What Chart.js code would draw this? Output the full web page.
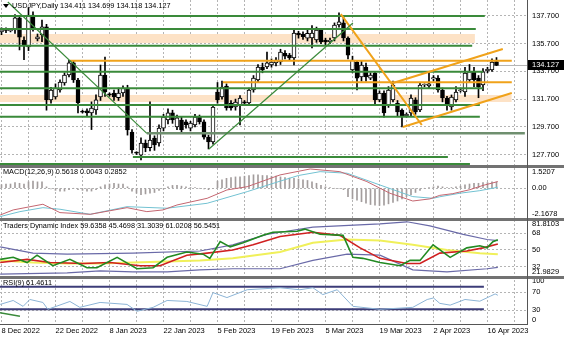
<!DOCTYPE html>
<html>
<head>
<meta charset="utf-8">
<script src="https://cdn.jsdelivr.net/npm/chart.js@4.4.1/dist/chart.umd.min.js"></script>
<style>
  html, body { margin: 0; padding: 0; background: #fff; }
  #wrap { width: 564px; height: 338px; }
</style>
</head>
<body>
<div id="wrap"><canvas id="chart" width="564" height="338"></canvas></div>
<script>
// ---- data ----
const headerText = 'USDJPY,Daily 134.411 134.699 134.118 134.127';
const macdTitle = 'MACD(12,26,9) 0.5618 0.0043 0.2852';
const tdiTitle = 'Traders Dynamic Index 59.6358 45.4698 31.3039 61.0208 56.5451';
const rsiTitle = 'RSI(9) 61.4611';
const lastPrice = 134.127;

const dateLabels = ['8 Dec 2022', '22 Dec 2022', '8 Jan 2023', '22 Jan 2023', '5 Feb 2023',
  '19 Feb 2023', '5 Mar 2023', '19 Mar 2023', '2 Apr 2023', '16 Apr 2023'];

const priceTicks = [137.7, 135.7, 133.7, 131.7, 129.7, 127.7];
const macdTicks = [1.5207, 0, -2.1678];
const macdTickLabels = ['1.5207', '0.00', '-2.1678'];
const tdiTicks = [81.8103, 68, 50, 32, 21.9829];
const tdiTickLabels = ['81.8103', '68', '50', '32', '21.9829'];
const rsiTicks = [100, 70, 30, 0];
const rsiTickLabels = ['100', '70', '30', '0'];

const barOpen = [136.55,136.72,136.62,136.69,137.56,135.95,135.46,137.77,136.05,136.33,
  136.91,131.64,131.85,132.36,132.86,133.44,134.31,133.08,130.80,130.85,
  130.70,130.91,131.85,133.44,132.05,132.14,131.80,132.14,132.50,129.32,
  127.82,127.66,128.53,128.20,128.89,128.53,129.61,130.20,130.70,129.69,
  130.19,130.05,129.61,129.83,130.41,130.05,128.96,128.60,132.21,131.85,
  132.64,131.42,131.13,131.27,131.50,131.42,132.36,133.08,134.02,134.02,
  134.16,134.31,134.38,135.00,134.88,134.67,136.47,136.40,136.10,136.11,
  135.97,136.69,135.97,135.85,136.11,137.05,137.20,136.11,133.80,134.38,
  133.30,134.02,133.22,133.58,131.64,132.14,131.27,131.64,131.42,130.91,
  130.50,130.70,131.64,130.91,132.72,132.65,133.15,133.22,132.36,131.78,
  131.13,131.64,132.30,132.21,133.08,133.66,133.22,132.72,133.75,133.80,134.411];
const barHigh = [136.85,136.85,136.70,137.80,137.75,136.20,138.30,138.00,136.40,137.40,
  137.10,132.55,132.80,133.10,133.60,134.50,134.45,133.20,130.90,131.00,
  131.50,132.00,134.16,134.74,132.15,132.35,132.50,132.65,132.70,129.50,
  127.90,128.90,128.75,131.50,129.05,129.85,130.60,131.00,130.90,130.55,
  130.40,130.20,130.10,130.60,130.55,130.20,129.10,131.30,132.90,133.00,
  132.80,131.60,131.70,131.95,131.60,132.50,133.40,134.20,134.30,135.10,
  134.60,134.70,135.30,135.20,135.00,136.70,136.60,136.55,136.70,137.00,
  136.90,136.80,136.10,136.10,137.20,137.92,137.60,136.20,134.80,134.50,
  134.50,134.30,133.60,133.70,132.30,132.30,132.60,133.00,131.60,131.00,
  130.70,132.00,131.80,132.90,132.80,133.66,133.40,133.40,132.50,131.90,
  132.00,132.60,132.50,134.00,134.20,134.00,133.40,133.90,134.00,134.60,134.699];
const barLow = [136.35,136.50,136.55,136.45,135.25,134.55,135.20,136.60,135.90,135.85,
  130.90,131.40,131.70,132.20,132.70,133.30,132.90,130.70,130.70,130.50,
  129.50,130.60,131.60,131.90,131.90,131.60,131.60,131.90,129.10,127.80,
  127.70,127.30,127.90,127.95,128.00,128.30,129.40,129.90,129.95,129.50,
  129.30,129.60,129.40,129.70,129.90,128.80,128.10,128.45,131.40,131.70,
  130.90,130.90,130.90,129.83,131.30,131.30,132.20,132.90,133.60,133.90,
  134.00,134.10,134.20,134.60,134.50,134.16,136.10,136.00,135.90,135.40,
  135.80,135.70,135.60,135.70,135.90,136.90,135.90,134.60,133.60,132.36,
  133.00,133.00,133.10,131.30,131.50,130.40,131.10,131.50,130.50,129.69,
  130.40,130.50,130.60,130.80,132.60,132.50,133.00,132.20,131.50,130.90,
  130.90,131.50,132.20,131.90,132.90,132.60,131.80,132.30,133.60,133.70,134.118];
const barClose = [136.70,136.66,136.62,137.56,136.18,135.55,137.77,136.84,136.20,136.91,
  131.64,132.36,132.50,132.93,133.44,134.31,133.08,131.42,130.75,130.70,
  131.06,131.64,133.44,132.21,132.00,131.85,132.14,132.50,129.47,128.03,
  127.80,128.53,128.17,128.75,128.39,129.61,130.41,130.70,130.19,130.34,
  129.47,129.83,129.97,130.41,130.05,128.96,128.60,131.13,131.64,132.57,
  131.06,131.06,131.49,131.78,131.40,132.36,133.22,134.02,133.80,134.31,
  134.38,134.52,135.10,134.80,134.67,136.47,136.33,136.20,136.45,136.47,
  136.69,135.82,135.82,135.95,137.05,137.27,136.11,134.88,134.52,133.22,
  134.16,133.30,133.44,131.64,132.14,130.70,132.36,132.72,130.77,130.41,
  130.60,131.78,130.77,132.72,132.72,132.80,133.25,132.36,131.78,131.27,
  131.85,132.21,132.35,133.58,133.66,133.08,132.57,133.66,133.85,134.38,134.127];

// drawn objects on the price window: [price, fromBar, toBar]
const greenLevels = [[137.70,-1,107.4],[136.76,-1,105.4],[135.56,-1,104.6],[133.68,-1,107.0],
  [132.48,-1,107.0],[131.27,-1,106.3],[130.43,-1,106.3],[127.52,29.2,99.2],[127.01,-1,104.1]];
const greyGreenLevels = [[129.23,32.3,116.3]];
const orangeLevels = [[134.47,15.2,113.4],[132.91,49.2,113.4]];
// zones: [top, bottom, fromBar, toBar]
const zones = [[136.40,135.75,-1,105.2],[132.00,131.49,-1,113.4]];
const greenTrends = [[[1.4,138.71],[32.3,129.23]], [[46.1,128.10],[78.1,137.19]]];
const orangeTrends = [[[75.4,137.84],[93.4,129.83]], [[87,132.86],[111.4,135.32]], [[89.2,129.69],[113.4,132.14]]];

// MACD window
const macdHist = [0.25,0.3,0.3,0.4,0.35,0.3,0.45,0.5,0.45,0.45,
  0.1,-0.05,-0.15,-0.2,-0.2,-0.1,0.0,
  -0.1,-0.15,-0.2,-0.2,-0.1,
  0.1,0.25,0.3,0.35,0.3,0.3,0.1,
  -0.2,-0.35,-0.45,-0.4,-0.35,-0.3,
  -0.15,-0.05,0.1,0.2,0.2,0.15,0.1,
  0.05,0.05,0.0,-0.05,-0.1,0.0,
  0.5,0.6,0.7,0.75,0.8,0.8,0.85,0.9,0.95,0.95,0.9,0.9,0.85,0.85,0.8,
  0.75,0.72,0.7,0.65,0.6,0.55,0.45,0.35,0.2,
  0.1,0.05,0.0,0.0,-0.1,
  -0.6,-0.75,-0.85,-0.95,-1.05,-1.15,-1.2,-1.22,-1.2,-1.1,-1.0,-0.9,-0.75,-0.6,-0.45,-0.3,-0.15,
  0.0,0.05,0.1,0.15,0.1,0.05,0.05,
  0.1,0.15,0.25,0.3,0.35,0.35,0.4,0.4,0.45,0.45];
const macdLine = [[-0.3,-1.89],[2.6,-1.53],[9.2,-1.13],[13,-1.72],[19.7,-1.84],[27.9,-1.37],[32.3,-1.65],
  [35.9,-1.53],[39,-1.18],[45.7,-0.71],[50.1,-0.12],[54.6,0.11],[61.9,0.94],[68.6,1.36],[75.2,1.17],
  [81.2,0.47],[86.3,-0.35],[91.4,-0.9],[95.2,-0.75],[97.4,-0.5],[100.3,-0.38],[104.1,-0.1],[107,0.2],[110.3,0.47]];
const macdSignal = [[-0.3,-2.0],[4.1,-1.65],[9.2,-1.37],[13,-1.48],[19.7,-1.84],[27.9,-1.30],[36.8,-1.41],
  [45.7,-1.06],[54.6,-0.24],[61.9,0.5],[66,0.9],[70.8,1.17],[76.8,1.06],[84.1,0.23],[91.4,-0.59],
  [95.9,-0.71],[97.4,-0.6],[101.9,-0.35],[106.3,-0.17],[110.3,0.07]];

// Traders Dynamic Index window
const tdiUpper = [[-0.3,53.4],[7,46.6],[14.6,45.5],[29.2,46.6],[44.1,48.9],[51.4,55.6],[59,66.9],[61.9,69.1],
  [69.2,74.7],[84.1,78.1],[90.1,80.4],[95.2,75.9],[102.6,66.9],[107.9,61.3],[110.3,60.1]];
const tdiLower = [[-0.3,24.1],[14.6,25.3],[21.9,27.5],[29.2,26.4],[36.8,26.4],[44.1,28.6],[51.4,29.8],
  [61.9,29.8],[69.2,38.8],[76.8,45.5],[84.1,44.4],[91.4,28.6],[99,26.4],[107.9,29.8],[110.3,31.3]];
const tdiMid = [[-0.3,38.8],[7,36.5],[14.6,35.4],[21.9,35.4],[29.2,36.5],[36.8,37.6],[44.1,38.8],[51.4,41.0],
  [61.9,47.8],[69.2,57.9],[76.8,61.3],[84.1,60.1],[91.4,55.6],[99,50.0],[106.3,46.6],[110.3,45.5]];
const tdiSignal = [[-0.3,36.5],[5.7,39.9],[10.8,36.5],[18.1,35.4],[24.1,36.5],[30.8,33.1],[35.2,33.1],
  [41.2,44.4],[45.7,46.6],[51.4,50.0],[55.9,55.6],[61.9,64.6],[69.2,69.1],[75.2,65.8],[79.7,52.3],
  [84.1,41.0],[90.1,35.4],[93,35.4],[97.4,46.6],[103.4,48.9],[107,52.3],[110.3,56.5]];
const tdiPrice = [[-0.3,39.9],[2.6,42.1],[5.7,36.5],[7.9,44.4],[11.4,33.1],[15.2,39.9],[19,30.9],[21.2,30.9],
  [25.7,42.1],[30.1,29.8],[33.7,30.9],[36.8,42.1],[41.2,47.8],[44.8,45.5],[46.3,41.0],[48.6,59.0],
  [50.8,53.4],[53.7,57.9],[58.1,65.8],[60.3,69.1],[65.7,70.2],[67.4,72.5],[70.8,66.9],[75.9,65.8],
  [78.1,42.1],[80.3,41.0],[84.1,36.5],[88.6,33.1],[90.8,38.8],[93,38.8],[95.9,55.6],[99.7,42.1],
  [103.4,52.3],[106.3,54.5],[107.9,52.3],[109.2,59.0],[110.3,61.0]];

// RSI window
const rsiLine = [[-0.3,42.6],[2.6,51.4],[4.8,38.3],[6.3,53.6],[9.2,47.0],[10.3,31.7],[15.2,49.2],[17.4,36.1],
  [21.9,47.0],[27.9,42.6],[30.1,27.3],[33.7,36.1],[36.8,51.4],[41.2,49.2],[45.7,38.3],[47,68.9],
  [50.1,57.9],[54.6,75.4],[61.9,79.8],[66.3,75.4],[69.2,79.8],[71.4,64.5],[74.6,75.4],[78.1,38.3],
  [84.1,31.7],[91.4,36.1],[94.6,53.6],[96,57],[97.4,45],[99.7,41],[103,53.6],[106.3,49.8],
  [108.6,60.8],[109.7,66],[110.3,63]];
const rsiLevels = [[82.0,-1,107.2],[31.7,-1,107.2]];
const rsiGreenSeg = [[-1,25.1],[4.1,16.4]];

// ---- build datasets ----
const idx = barOpen.map((_, i) => i);
const pts = arr => arr.map(p => ({x: p[0], y: p[1]}));

function line(data, axis, color, width, order) {
  return { type: 'line', yAxisID: axis, data: data, borderColor: color, borderWidth: width,
    pointRadius: 0, tension: 0, fill: false, order: order };
}

const datasets = [];
// price window
zones.forEach(z => {
  datasets.push(line([{x: z[2], y: z[0]}, {x: z[3], y: z[0]}], 'yMain', 'rgba(0,0,0,0)', 0, 20));
  datasets.push(Object.assign(line([{x: z[2], y: z[1]}, {x: z[3], y: z[1]}], 'yMain', 'rgba(0,0,0,0)', 0, 20),
    { fill: '-1', backgroundColor: '#fde2c6' }));
});
datasets.push(line([{x: -1, y: lastPrice}, {x: 130, y: lastPrice}], 'yMain', '#b4b4b4', 1, 15));
datasets.push({
  type: 'bar', yAxisID: 'yMain', grouped: false, order: 11,
  data: idx.map(i => ({x: i, y: [barLow[i], barHigh[i]]})),
  backgroundColor: '#000', barThickness: 1, minBarLength: 1
});
datasets.push({
  type: 'bar', yAxisID: 'yMain', grouped: false, order: 10,
  data: idx.map(i => ({x: i, y: [barOpen[i], barClose[i]]})),
  backgroundColor: idx.map(i => barClose[i] >= barOpen[i] ? '#fff' : '#000'),
  borderColor: '#000', borderWidth: 1, borderSkipped: false, barThickness: 4, minBarLength: 1
});
greyGreenLevels.forEach(l => datasets.push(line([{x: l[1], y: l[0]}, {x: l[2], y: l[0]}], 'yMain', '#6f8f6f', 2.5, 5)));
greenLevels.forEach(l => datasets.push(line([{x: l[1], y: l[0]}, {x: l[2], y: l[0]}], 'yMain', '#3a8a3a', 2, 5)));
orangeLevels.forEach(l => datasets.push(line([{x: l[1], y: l[0]}, {x: l[2], y: l[0]}], 'yMain', '#f0a21a', 2, 4)));
greenTrends.forEach(t => datasets.push(line(pts(t), 'yMain', '#3a8a3a', 1.2, 3)));
orangeTrends.forEach(t => datasets.push(line(pts(t), 'yMain', '#f0a21a', 2, 3)));

// MACD window
datasets.push({
  type: 'bar', yAxisID: 'yMacd', grouped: false, order: 10,
  data: idx.map(i => ({x: i, y: macdHist[i]})),
  backgroundColor: '#a39d9d', barThickness: 1
});
datasets.push(line(pts(macdSignal), 'yMacd', '#72c2d2', 1, 2));
datasets.push(line(pts(macdLine), 'yMacd', '#c46670', 1, 1));

// TDI window
datasets.push(line(pts(tdiUpper), 'yTdi', '#6a6aa8', 1.2, 3));
datasets.push(line(pts(tdiLower), 'yTdi', '#6a6aa8', 1.2, 3));
datasets.push(line(pts(tdiMid), 'yTdi', '#f0f05a', 2, 3));
datasets.push(line(pts(tdiSignal), 'yTdi', '#d02020', 1.6, 2));
datasets.push(line(pts(tdiPrice), 'yTdi', '#228a22', 1.6, 1));

// RSI window
rsiLevels.forEach(l => datasets.push(line([{x: l[1], y: l[0]}, {x: l[2], y: l[0]}], 'yRsi', '#3c3c78', 2, 3)));
datasets.push(line(pts(rsiGreenSeg), 'yRsi', '#3a8a3a', 1.5, 2));
datasets.push(line(pts(rsiLine), 'yRsi', '#8cb4d6', 1, 1));

// ---- axes ----
const gridGrey = '#b4b4b4';
const tickFont = { family: 'Liberation Sans', size: 7.5 };
const panes = { main: 166, macd: 53, tdi: 58, rsi: 47 };

// extreme labels sit a few pixels inside their window, as in the terminal
function insetTicks(values, min, max, heightPx, insetPx) {
  const d = (max - min) * insetPx / heightPx;
  return values.map((v, i) => {
    if (i === 0) return { value: max - d };
    if (i === values.length - 1) return { value: min + d };
    return { value: v };
  });
}

function yAxis(weight, min, max, ticksFn, labelFn, gridFn) {
  return {
    type: 'linear', position: 'right', stack: 'panes', stackWeight: weight,
    min: min, max: max, offset: false,
    afterFit: s => { s.width = 37; s.paddingTop = 0; s.paddingBottom = 0; },
    afterBuildTicks: s => { s.ticks = ticksFn(); },
    border: { display: false, dash: [2, 2] },
    grid: { color: gridFn, drawTicks: false, lineWidth: 1 },
    ticks: { callback: labelFn, font: tickFont, color: '#000', padding: 5, autoSkip: false }
  };
}

const macdMin = -2.17, macdMax = 1.57;
const tdiMin = 20.9, tdiMax = 83.4;
const rsiMin = -1.1, rsiMax = 103.8;
const innerOnly = n => ctx => (ctx.index === 0 || ctx.index === n - 1) ? 'rgba(0,0,0,0)' : gridGrey;

const chart = new Chart(document.getElementById('chart').getContext('2d'), {
  type: 'bar',
  data: { datasets: datasets },
  options: {
    responsive: false,
    devicePixelRatio: 1,
    animation: false,
    events: [],
    layout: { padding: 0 },
    plugins: { legend: { display: false }, tooltip: { enabled: false } },
    scales: {
      x: {
        type: 'linear', position: 'bottom', min: -0.333, max: 116.78, offset: false,
        afterFit: s => { s.height = 14; s.paddingLeft = 0; s.paddingRight = 0; },
        afterBuildTicks: s => {
          const t = [];
          for (let v = 0; v <= 114; v += 6) t.push({ value: v });
          s.ticks = t;
        },
        border: { display: false, dash: [2, 2] },
        grid: { color: gridGrey, drawTicks: false, offset: false },
        ticks: {
          font: tickFont, color: '#000', padding: 2, maxRotation: 0, autoSkip: false, align: 'start',
          callback: v => (v % 12 === 0 && dateLabels[v / 12]) ? dateLabels[v / 12] : ''
        }
      },
      yMain: yAxis(panes.main, 126.87, 138.855,
        () => priceTicks.map(v => ({ value: v })),
        v => v.toFixed(3),
        () => gridGrey),
      yMacd: yAxis(panes.macd, macdMin, macdMax,
        () => insetTicks(macdTicks, macdMin, macdMax, panes.macd, 5.5),
        (v, i) => macdTickLabels[i],
        innerOnly(macdTicks.length)),
      yTdi: yAxis(panes.tdi, tdiMin, tdiMax,
        () => insetTicks(tdiTicks, tdiMin, tdiMax, panes.tdi, 5),
        (v, i) => tdiTickLabels[i],
        innerOnly(tdiTicks.length)),
      yRsi: yAxis(panes.rsi, rsiMin, rsiMax,
        () => insetTicks(rsiTicks, rsiMin, rsiMax, panes.rsi, 4),
        (v, i) => rsiTickLabels[i],
        innerOnly(rsiTicks.length))
    }
  },
  plugins: [{
    id: 'terminalFrame',
    afterDraw(c) {
      const { ctx, chartArea, scales } = c;
      ctx.save();
      // window separators
      ctx.fillStyle = '#727272';
      [scales.yMacd.top, scales.yTdi.top, scales.yRsi.top].forEach(y => {
        ctx.fillRect(0, Math.round(y) - 1, c.width, 3);
      });
      // axis frame
      ctx.fillStyle = '#555';
      ctx.fillRect(Math.round(chartArea.right), 0, 1, Math.round(chartArea.bottom));
      ctx.fillRect(0, Math.round(chartArea.bottom), Math.round(chartArea.right) + 1, 1);
      // current price tag
      const py = Math.round(scales.yMain.getPixelForValue(lastPrice));
      ctx.fillStyle = '#000';
      ctx.fillRect(Math.round(chartArea.right) + 1, py - 5, 36, 10);
      ctx.fillStyle = '#fff';
      ctx.font = '7.5px "Liberation Sans"';
      ctx.textBaseline = 'middle';
      ctx.fillText(lastPrice.toFixed(3), Math.round(chartArea.right) + 5, py);
      // window titles
      ctx.fillStyle = '#000';
      ctx.font = '7.3px "Liberation Sans"';
      ctx.beginPath();
      ctx.moveTo(3, 4); ctx.lineTo(9, 4); ctx.lineTo(6, 8); ctx.closePath(); ctx.fill();
      ctx.fillText(headerText, 12, 6);
      ctx.fillText(macdTitle, 3, Math.round(scales.yMacd.top) + 6);
      ctx.fillText(tdiTitle, 3, Math.round(scales.yTdi.top) + 7);
      ctx.fillText(rsiTitle, 3, Math.round(scales.yRsi.top) + 6);
      ctx.restore();
    }
  }]
});
</script>
</body>
</html>
